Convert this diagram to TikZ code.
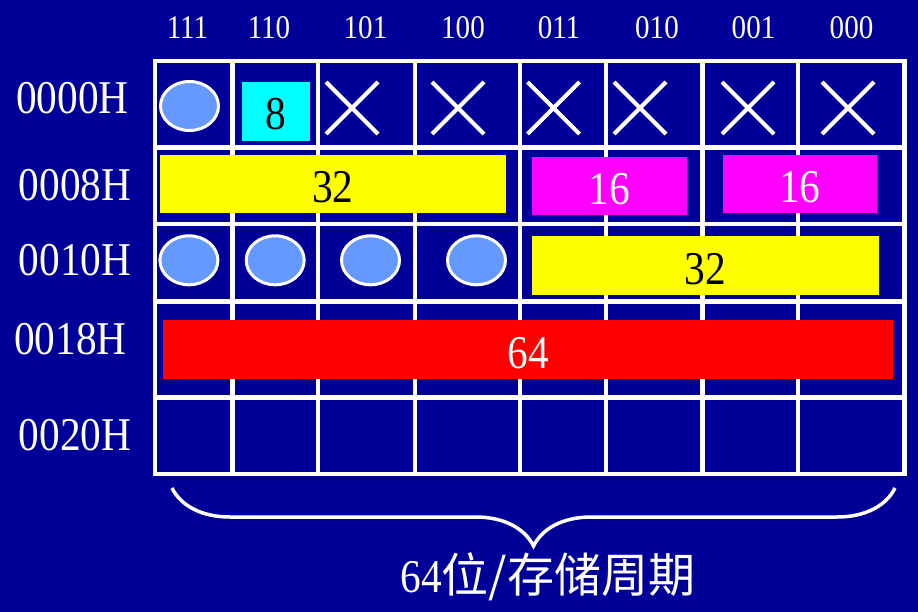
\documentclass[tikz,border=0pt]{standalone}
\usepackage{fontspec}
\setmainfont{Liberation Serif}[FakeStretch=0.88]
\newfontfamily\cjkfont{Noto Sans CJK SC}
\usetikzlibrary{shapes.geometric,shapes.misc,decorations.pathreplacing}
\definecolor{bgblue}{RGB}{0,0,153}
\definecolor{slotblue}{RGB}{102,153,255}
\definecolor{wcyan}{RGB}{0,255,255}
\definecolor{wyellow}{RGB}{255,255,0}
\definecolor{wmagenta}{RGB}{255,0,255}
\definecolor{wred}{RGB}{255,0,0}
\newcommand{\hdrfont}{\fontsize{33}{33}\selectfont}
\newcommand{\bigfont}{\fontsize{47}{47}\selectfont}
\tikzset{
    gridsty/.style={draw=white,line width=4.5pt},
    hdrsty/.style={text=white,font=\hdrfont,inner sep=0pt},
    addrsty/.style={text=white,font=\bigfont,inner sep=0pt},
    ovalsty/.style={ellipse,draw=white,line width=3pt,fill=slotblue,minimum width=58pt,minimum height=49pt,inner sep=0pt},
    crosssty/.style={cross out,draw=white,line width=4pt,minimum size=48pt,inner sep=0pt},
    blksty/.style={rectangle,inner sep=0pt,font=\bigfont,text height=37pt,text depth=0pt},
    bracesty/.style={draw=white,line width=3.5pt,decorate,decoration={brace,mirror,amplitude=58pt}},
}

\begin{document}
\begin{tikzpicture}[x=1pt,y=-1pt]
  \fill[bgblue] (0,0) rectangle (918,612);
  \useasboundingbox (0,0) rectangle (918,612);

  % grid of banks and rows
  \draw[gridsty] (155,61) rectangle (904.5,474);
  \foreach \x in {232.5,318,415,520,606,702.5,798}
    \draw[gridsty] (\x,61) -- (\x,474);
  \foreach \y in {147.5,224,301.5,397.7}
    \draw[gridsty] (155,\y) -- (904.5,\y);

  % bank numbers and addresses
  \foreach \bits/\x [count=\i] in {111/187.5,110/269,101/365.5,100/463,011/559,010/657,001/753.5,000/851.5}
    \node[hdrsty] (hdr-\i) at (\x,28) {\bits};
  \foreach \addr/\x/\y [count=\i] in {0000H/72.5/98.5,0008H/75/185,0010H/75/260,0018H/70.5/339,0020H/75/435}
    \node[addrsty] (addr-\i) at (\x,\y) {\addr};

  % row 0000H
  \node[ovalsty] (slot-a) at (189.5,106) {};
  \node[blksty,fill=wcyan,minimum width=68pt,minimum height=59pt] (w8) at (276,111.3) {8};
  \foreach \x [count=\i] in {352,458,553.5,640,748,848}
    \node[crosssty] (void-\i) at (\x,108) {};

  % row 0008H
  \node[blksty,fill=wyellow,minimum width=345.5pt,minimum height=57.7pt] (w32a) at (332.8,183.9) {32};
  \node[blksty,fill=wmagenta,text=white,minimum width=155.3pt,minimum height=58.3pt] (w16a) at (609.3,185.8) {16};
  \node[blksty,fill=wmagenta,text=white,minimum width=154.3pt,minimum height=57.7pt] (w16b) at (799.8,183.8) {16};

  % row 0010H
  \foreach \x [count=\i] in {188.9,275.2,370.5,476.5}
    \node[ovalsty] (slot-b\i) at (\x,260.3) {};
  \node[blksty,fill=wyellow,minimum width=347.3pt,minimum height=59pt] (w32b) at (705.3,265.5) {32};

  % row 0018H
  \node[blksty,fill=wred,text=white,minimum width=730pt,minimum height=59pt] (w64) at (528,349.5) {64};

  % width of one access
  \coordinate (brace-l) at (172,488);
  \coordinate (brace-r) at (895,488);
  \draw[bracesty] (brace-l) -- (brace-r);
  \node[text=white,inner sep=0pt] (width) at (548,577) {\bigfont 64{\cjkfont 位/存储周期}};
\end{tikzpicture}
\end{document}
